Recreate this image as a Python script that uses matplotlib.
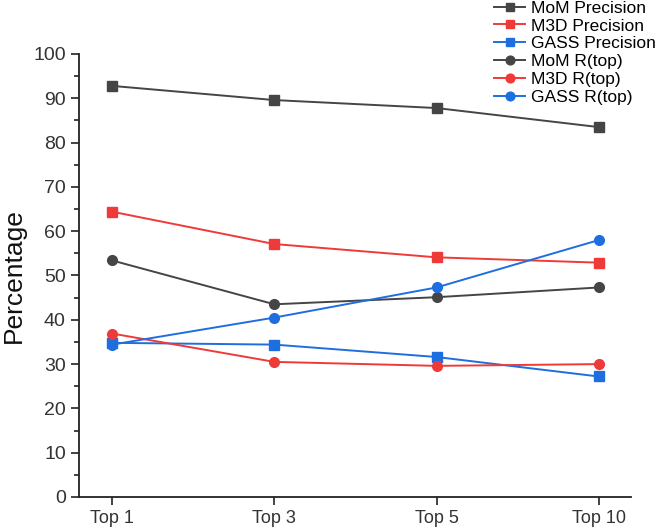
import matplotlib
matplotlib.use("Agg")
import matplotlib.pyplot as plt
from matplotlib.ticker import MultipleLocator

plt.rcParams['font.family'] = ['Liberation Sans', 'DejaVu Sans']

categories = ["Top 1", "Top 3", "Top 5", "Top 10"]
mom_precision = [92.8, 89.6, 87.8, 83.5]
m3d_precision = [64.4, 57.1, 54.1, 52.9]
gass_precision = [34.8, 34.4, 31.6, 27.2]
mom_rtop = [53.4, 43.5, 45.1, 47.3]
m3d_rtop = [36.9, 30.5, 29.6, 30.0]
gass_rtop = [34.4, 40.5, 47.3, 58.0]

gray = '#454545'
red = '#ef3a3a'
blue = '#1f6ee0'

fig = plt.figure(figsize=(6.61, 5.32), dpi=100)
ax = fig.add_axes([0.1195, 0.0658, 0.955 - 0.1195, 0.8985 - 0.0658])

x = list(range(len(categories)))
series = [
    ("MoM Precision", mom_precision, gray, 's'),
    ("M3D Precision", m3d_precision, red, 's'),
    ("GASS Precision", gass_precision, blue, 's'),
    ("MoM R(top)", mom_rtop, gray, 'o'),
    ("M3D R(top)", m3d_rtop, red, 'o'),
    ("GASS R(top)", gass_rtop, blue, 'o'),
]
handles = []
for label, vals, col, mk in series:
    h, = ax.plot(x, vals, color=col, marker=mk, markersize=7, linewidth=1.4, label=label)
    handles.append(h)

ax.set_xlim(-0.204, 3.2)
ax.set_ylim(0, 100)
ax.set_xticks(x)
ax.set_xticklabels(categories)
ax.yaxis.set_major_locator(MultipleLocator(10))
ax.yaxis.set_minor_locator(MultipleLocator(5))

for s in ['top', 'right']:
    ax.spines[s].set_visible(False)
for s in ['left', 'bottom']:
    ax.spines[s].set_color('#222222')
    ax.spines[s].set_linewidth(1.3)

ax.tick_params(axis='both', which='major', direction='out', length=6, width=1.2,
               color='#222222', labelcolor='#333333')
ax.tick_params(axis='y', which='minor', direction='out', length=3.5, width=1.2, color='#222222')
ax.tick_params(axis='y', labelsize=14)
ax.tick_params(axis='x', labelsize=13)
ax.set_ylabel("Percentage", fontsize=19, color='#111111', labelpad=5)

fig.legend(handles=handles, loc='upper right', bbox_to_anchor=(1.01, 1.02), frameon=False,
           fontsize=12.5, handlelength=1.8, labelspacing=0.15, handletextpad=0.35,
           borderpad=0.15, markerscale=0.9)

fig.savefig("out.png", dpi=100)
